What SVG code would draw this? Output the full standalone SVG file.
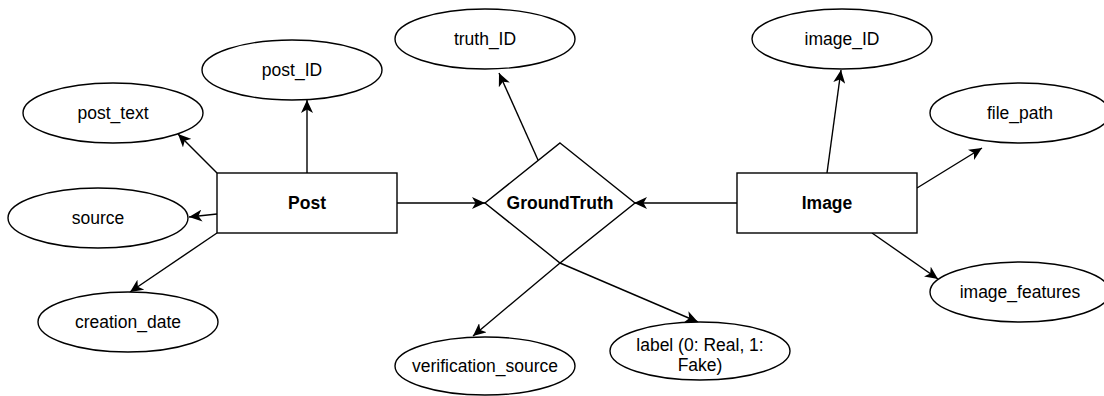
<svg xmlns="http://www.w3.org/2000/svg" width="1104" height="396" viewBox="0 0 1104 396">
  <style>
    .shape { fill: #ffffff; stroke: #000000; stroke-width: 1.4; }
    .edge { fill: none; stroke: #000000; stroke-width: 1.4; marker-end: url(#arrow); }
    .label { font-family: "Liberation Sans", Arial, sans-serif; font-size: 17.5px; fill: #000000; text-anchor: middle; }
    .bold { font-weight: bold; }
  </style>
  <defs>
    <marker id="arrow" markerUnits="userSpaceOnUse" markerWidth="14" markerHeight="12" viewBox="0 0 14 12" refX="13" refY="6" orient="auto">
      <path d="M0,0 L13,6 L0,12 L3.5,6 Z" fill="#000000"/>
    </marker>
  </defs>
  <rect width="1104" height="396" fill="#ffffff"/>

  <!-- connectors -->
  <g id="connectors">
    <line class="edge" x1="217" y1="173" x2="178" y2="134"/>
    <line class="edge" x1="307" y1="173" x2="307" y2="100"/>
    <line class="edge" x1="217" y1="214" x2="189" y2="217"/>
    <line class="edge" x1="217" y1="233" x2="130" y2="292"/>
    <line class="edge" x1="397" y1="203" x2="485" y2="203"/>
    <line class="edge" x1="538" y1="160" x2="499" y2="73"/>
    <line class="edge" x1="560" y1="263" x2="473" y2="336"/>
    <line class="edge" x1="560" y1="263" x2="698" y2="322"/>
    <line class="edge" x1="737" y1="203" x2="634" y2="203"/>
    <line class="edge" x1="827" y1="173" x2="841" y2="70"/>
    <line class="edge" x1="917" y1="188" x2="982" y2="148"/>
    <line class="edge" x1="872" y1="233" x2="938" y2="279"/>
  </g>

  <!-- entities -->
  <g id="post">
    <rect class="shape" x="217" y="173" width="180" height="60"/>
    <text class="label bold" x="307" y="209">Post</text>
  </g>
  <g id="image">
    <rect class="shape" x="737" y="173" width="180" height="60"/>
    <text class="label bold" x="827" y="209">Image</text>
  </g>

  <!-- relationship -->
  <g id="groundtruth">
    <polygon class="shape" points="560,143 635,203 560,263 485,203"/>
    <text class="label bold" x="560" y="209">GroundTruth</text>
  </g>

  <!-- attributes -->
  <g id="post_ID">
    <ellipse class="shape" cx="292" cy="70" rx="90" ry="30"/>
    <text class="label" x="292" y="76">post_ID</text>
  </g>
  <g id="post_text">
    <ellipse class="shape" cx="113" cy="113" rx="90" ry="30"/>
    <text class="label" x="113" y="119">post_text</text>
  </g>
  <g id="source">
    <ellipse class="shape" cx="98" cy="218" rx="90" ry="30"/>
    <text class="label" x="98" y="224">source</text>
  </g>
  <g id="creation_date">
    <ellipse class="shape" cx="128" cy="322" rx="90" ry="30"/>
    <text class="label" x="128" y="328">creation_date</text>
  </g>
  <g id="truth_ID">
    <ellipse class="shape" cx="485" cy="39" rx="90" ry="30"/>
    <text class="label" x="485" y="45">truth_ID</text>
  </g>
  <g id="verification_source">
    <ellipse class="shape" cx="485" cy="366" rx="90" ry="29"/>
    <text class="label" x="485" y="372">verification_source</text>
  </g>
  <g id="label">
    <ellipse class="shape" cx="700" cy="351" rx="90" ry="29"/>
    <text class="label" x="700" y="351">label (0: Real, 1:</text>
    <text class="label" x="700" y="371">Fake)</text>
  </g>
  <g id="image_ID">
    <ellipse class="shape" cx="842" cy="39" rx="90" ry="30"/>
    <text class="label" x="842" y="45">image_ID</text>
  </g>
  <g id="file_path">
    <ellipse class="shape" cx="1020" cy="113" rx="90" ry="30"/>
    <text class="label" x="1020" y="119">file_path</text>
  </g>
  <g id="image_features">
    <ellipse class="shape" cx="1020" cy="292" rx="90" ry="30"/>
    <text class="label" x="1020" y="298">image_features</text>
  </g>
</svg>
